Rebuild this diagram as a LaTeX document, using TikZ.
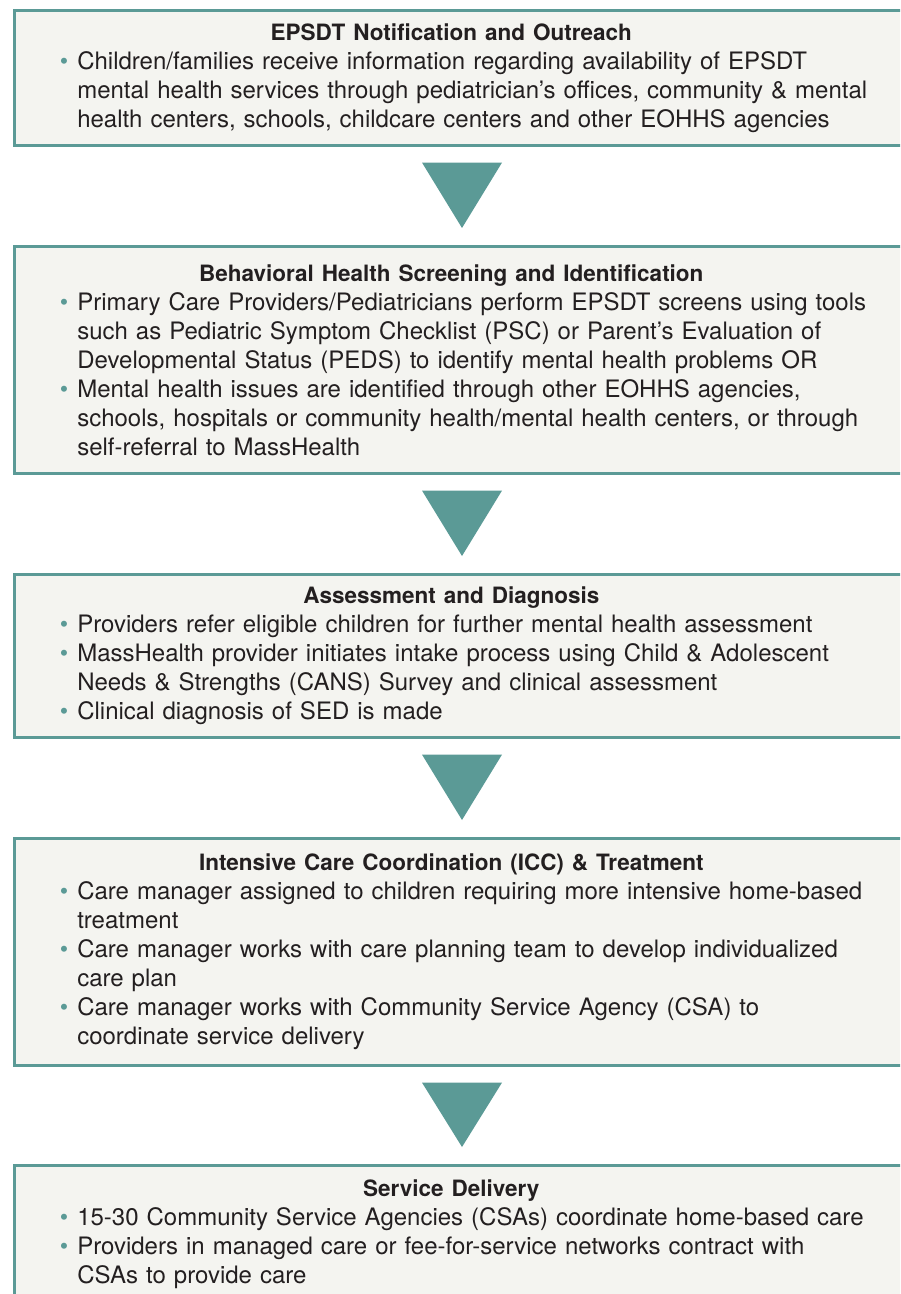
\documentclass[tikz,border=0pt]{standalone}
\usepackage{fontspec}
\setmainfont{TeX Gyre Heros}
\usetikzlibrary{calc}
\definecolor{epsteal}{HTML}{5B9A96}
\definecolor{epsfill}{HTML}{F4F4F0}
\definecolor{epstext}{HTML}{231F20}
\newcommand{\steptitle}[1]{\noindent\makebox[\hsize][c]{\fontsize{11.25}{14.5}\bfseries #1\hspace{22pt}}}
\newcommand{\stepitem}{\leavevmode\llap{\textcolor{epsteal}{\textbullet}\hspace{4.5pt}}}

\begin{document}
\begin{tikzpicture}[x=0.5pt, y=-0.5pt,
    stepbox/.style={draw=epsteal, fill=epsfill, line width=1.3pt, anchor=north west,
        align=left, text width=396pt, inner xsep=31.5pt, inner ysep=0pt,
        text=epstext, font=\fontsize{12}{14.5}\selectfont},
    pointer/.style={fill=epsteal}
]
\useasboundingbox (0,0) rectangle (900,1294);
\clip (0,0) rectangle (900,1294);
\node[stepbox, minimum height=67.5pt] (outreach) at (13,9)
    {\steptitle{EPSDT Notification and Outreach}\\
     \stepitem Children/families receive information regarding availability of EPSDT\\
     mental health services through pediatrician’s offices, community \& mental\\
     health centers, schools, childcare centers and other EOHHS agencies};
\node[stepbox, minimum height=113.5pt] (screening) at (13,245)
    {\steptitle{Behavioral Health Screening and Identification}\\
     \stepitem Primary Care Providers/Pediatricians perform EPSDT screens using tools\\
     such as Pediatric Symptom Checklist (PSC) or Parent’s Evaluation of\\
     Developmental Status (PEDS) to identify mental health problems OR\\
     \stepitem Mental health issues are identified through other EOHHS agencies,\\
     schools, hospitals or community health/mental health centers, or through\\
     self-referral to MassHealth};
\node[stepbox, minimum height=81.5pt] (assessment) at (13,573)
    {\steptitle{Assessment and Diagnosis}\\
     \stepitem Providers refer eligible children for further mental health assessment\\
     \stepitem MassHealth provider initiates intake process using Child \& Adolescent\\
     Needs \& Strengths (CANS) Survey and clinical assessment\\
     \stepitem Clinical diagnosis of SED is made};
\node[stepbox, minimum height=113.5pt] (coordination) at (13,837)
    {\steptitle{Intensive Care Coordination (ICC) \& Treatment}\\
     \stepitem Care manager assigned to children requiring more intensive home-based\\
     treatment\\
     \stepitem Care manager works with care planning team to develop individualized\\
     care plan\\
     \stepitem Care manager works with Community Service Agency (CSA) to\\
     coordinate service delivery};
\node[stepbox, minimum height=68.5pt] (delivery) at (13,1164)
    {\steptitle{Service Delivery}\\
     \stepitem 15-30 Community Service Agencies (CSAs) coordinate home-based care\\
     \stepitem Providers in managed care or fee-for-service networks contract with\\
     CSAs to provide care};
% down pointers between the steps
\fill[pointer] ($(outreach.south west)+(409,16)$) -- ++(80,0)
    -- ($(screening.north west)+(449,-17)$) -- cycle;
\fill[pointer] ($(screening.south west)+(409,16)$) -- ++(80,0)
    -- ($(assessment.north west)+(449,-17)$) -- cycle;
\fill[pointer] ($(assessment.south west)+(409,16)$) -- ++(80,0)
    -- ($(coordination.north west)+(449,-17)$) -- cycle;
\fill[pointer] ($(coordination.south west)+(409,16)$) -- ++(80,0)
    -- ($(delivery.north west)+(449,-17)$) -- cycle;
\end{tikzpicture}
\end{document}
